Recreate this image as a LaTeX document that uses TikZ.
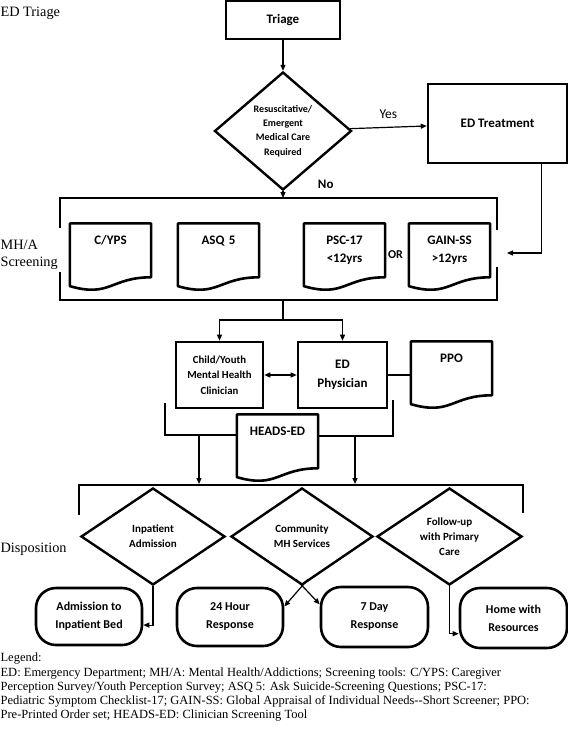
\documentclass[tikz,border=0pt]{standalone}
\usepackage{fontspec}
\setmainfont{Liberation Serif}
\newfontfamily\boxfont{Carlito}
\usepackage{tikz}
\usetikzlibrary{shapes.geometric}
\usetikzlibrary{arrows.meta}
\usetikzlibrary{calc}

% wavy outline of a document node
\newcommand{\docpath}[1]{\draw[line width=2.6pt, line join=round] (#1.north west) -- (#1.north east)
	-- ($(#1.north east)!0.802!(#1.south east)$)
	.. controls ($(#1.north)!0.802!(#1.south)$) and ($(#1.north)!1.107!(#1.south)$) .. ($(#1.north west)!0.934!(#1.south west)$)
	-- cycle;}

\begin{document}
\begin{tikzpicture}
	[x=1pt, y=-1pt, line width=1.2pt, >={Triangle[length=6pt,width=5pt]},
	box/.style = {draw, rectangle, line width=2.6pt, align=center, font={\boxfont\bfseries\fontsize{13}{19}\selectfont}},
	dec/.style = {draw, diamond, line width=2.4pt, inner sep=0pt, align=center, font={\boxfont\bfseries\fontsize{11}{15}\selectfont}},
	doc/.style = {rectangle, inner sep=0pt, minimum width=80pt, text width=80pt, align=center, text height=20pt, text depth=46pt, font={\boxfont\bfseries\fontsize{13}{18}\selectfont}},
	term/.style = {draw, rectangle, rounded corners=20pt, line width=2.6pt, align=center, font={\boxfont\bfseries\fontsize{12}{18}\selectfont}},
	side/.style = {inner sep=0pt, align=left, font=\fontsize{14.3}{17}\selectfont}]
	\useasboundingbox (0,0) rectangle (568,732);
	% stage labels
	\node[side, anchor=base west] (a) at (0,16) {ED Triage};
	\node[side, anchor=west] (b) at (0,255) {MH/A\\Screening};
	\node[side, anchor=base west] (c) at (0,552) {Disposition};
	% triage
	\node[box, minimum width=114pt, minimum height=38pt] (1) at (283,20) {Triage};
	\node[dec, minimum width=137pt, minimum height=118pt, font={\boxfont\bfseries\fontsize{10}{14.3}\selectfont}] (2) at (283,131) {Resuscitative/\\Emergent\\Medical Care\\Required};
	\node[box, minimum width=139pt, minimum height=79pt] (3) at (497.5,123.5) {ED Treatment};
	% screening tools
	\node[doc] (4) at (110.5,257) {C/YPS};
	\node[doc] (5) at (218.5,257) {ASQ 5};
	\node[doc] (6) at (344.5,257) {PSC-17\\<12yrs};
	\node[doc] (7) at (449.5,257) {GAIN-SS\\>12yrs};
	\node[inner sep=0pt, font={\boxfont\bfseries\fontsize{12}{14}\selectfont}] (or) at (395.5,255) {OR};
	\foreach \d in {4,5,6,7} {\docpath{\d}}
	% assessment
	\node[box, minimum width=87pt, minimum height=66pt, font={\boxfont\bfseries\fontsize{10.8}{15.5}\selectfont}] (8) at (219.5,375) {Child/Youth\\Mental Health\\Clinician};
	\node[box, minimum width=89pt, minimum height=66pt] (9) at (342.5,375) {ED\\Physician};
	\node[doc] (10) at (451.5,375) {PPO};
	\node[doc] (11) at (277.5,448) {HEADS-ED};
	\docpath{10}
	\docpath{11}
	% disposition
	\node[dec, minimum width=144pt, minimum height=97pt] (12) at (153,536.5) {Inpatient\\Admission};
	\node[dec, minimum width=142pt, minimum height=97pt] (13) at (302,536.5) {Community\\MH Services};
	\node[dec, minimum width=145pt, minimum height=97pt] (14) at (449.5,536.5) {Follow-up\\with Primary\\Care};
	\node[term, minimum width=106pt, minimum height=57pt] (15) at (89,616.5) {Admission to\\Inpatient Bed};
	\node[term, minimum width=106pt, minimum height=58pt] (16) at (230,617) {24 Hour\\Response};
	\node[term, minimum width=107pt, minimum height=60pt] (17) at (374.5,617) {7 Day\\Response};
	\node[term, minimum width=107pt, minimum height=60pt] (18) at (513.5,618) {Home with\\Resources};
	% brackets
	\coordinate (s1) at (283,198);
	\coordinate (s2) at (507,253);
	\coordinate (s3) at (283,300);
	\coordinate (s4) at (283,320);
	\coordinate (h1) at (165,435);
	\coordinate (h2) at (393,436);
	\coordinate (d1) at (199,484);
	\coordinate (d2) at (355,484);
	\draw (60,228) -- (60,198) -- (497,198) -- (497,230);
	\draw (60,272) -- (60,300) -- (497,300) -- (497,267);
	\draw (165,403) -- (h1) -- (h1 -| 11.west);
	\draw (h2 -| 11.east) -- (h2) -- (393,400);
	\draw (79,515) -- (79,485) -- (523,485) -- (523,513);
	% connectors
	\draw[->] (1) -- (2);
	\draw[->] (2) -- node[above=5pt, font={\boxfont\fontsize{13.5}{16}\selectfont}] {Yes} (3);
	\draw[->] (2) -- node[right, xshift=31pt, yshift=10pt, font={\boxfont\bfseries\fontsize{13}{16}\selectfont}] {No} (s1);
	\draw[->] ([xshift=44pt]3.south) |- (s2);
	\draw (s3) -- (s4);
	\draw[->] (s4) -| (8);
	\draw[->] (s4) -| (9);
	\draw[<->] (8) -- (9);
	\draw (9) -- (10);
	\draw[->] (h1 -| d1) -- (d1);
	\draw[->] (h2 -| d2) -- (d2);
	\draw[->] (12.south) |- (15.-9);
	\draw[->] ([xshift=6pt,yshift=7pt]13.south) -- (16.11);
	\draw[->] ([xshift=-6pt,yshift=7pt]13.south) -- (17.167);
	\draw[->] (14.south) |- (18.-164);
	% legend
	\node[inner sep=0pt, anchor=north west, align=left, font=\fontsize{12.5}{14.3}\selectfont] (leg) at (0,652.5) {Legend:\\ED: Emergency Department; MH/A: Mental Health/Addictions; Screening tools: C/YPS: Caregiver\\Perception Survey/Youth Perception Survey; ASQ 5: Ask Suicide-Screening Questions; PSC-17:\\Pediatric Symptom Checklist-17; GAIN-SS: Global Appraisal of Individual Needs{-}{-}Short Screener; PPO:\\Pre-Printed Order set; HEADS-ED: Clinician Screening Tool};
\end{tikzpicture}
\end{document}
